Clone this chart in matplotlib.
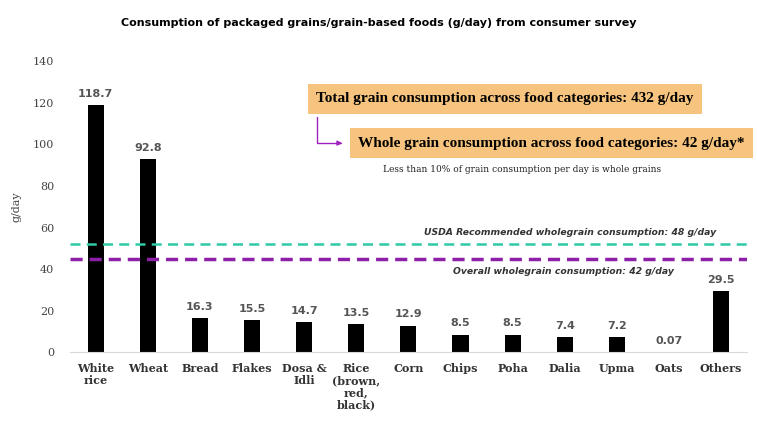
import matplotlib.pyplot as plt
from matplotlib.patches import FancyArrowPatch

categories = ['White\nrice', 'Wheat', 'Bread', 'Flakes', 'Dosa &\nIdli',
              'Rice\n(brown,\nred,\nblack)', 'Corn', 'Chips', 'Poha', 'Dalia',
              'Upma', 'Oats', 'Others']
values = [118.7, 92.8, 16.3, 15.5, 14.7, 13.5, 12.9, 8.5, 8.5, 7.4, 7.2, 0.07, 29.5]
value_labels = ['118.7', '92.8', '16.3', '15.5', '14.7', '13.5', '12.9', '8.5',
                '8.5', '7.4', '7.2', '0.07', '29.5']
usda_line = 52
overall_line = 45

serif = 'DejaVu Serif'
box_font = 'Liberation Serif'

fig = plt.figure(figsize=(7.57, 4.21), dpi=100)
ax = fig.add_axes([0.092, 0.163, 0.895, 0.692])

x = list(range(len(categories)))
ax.bar(x, values, width=0.31, color='black')
for xi, v, lab in zip(x, values, value_labels):
    ax.text(xi, v + 3, lab, ha='center', va='bottom', fontsize=8,
            weight='bold', color='#555555')

ax.axhline(usda_line, color='#2fc9a6', lw=1.8, ls=(0, (4, 2.5)))
ax.axhline(overall_line, color='#8e1fa8', lw=2.5, ls=(0, (3.5, 2)))
ax.text(11.9, usda_line + 3.5, 'USDA Recommended wholegrain consumption: 48 g/day',
        ha='right', va='bottom', fontsize=6.7, style='italic', weight='bold',
        color='#333333')
ax.text(11.1, overall_line - 4, 'Overall wholegrain consumption: 42 g/day',
        ha='right', va='top', fontsize=6.7, style='italic', weight='bold',
        color='#333333')

ax.set_xlim(-0.5, 12.5)
ax.set_ylim(0, 140)
ax.set_yticks(range(0, 141, 20))
ax.set_xticks(x)
ax.set_xticklabels(categories, family=serif, fontsize=8, weight='bold',
                   color='#333333', linespacing=1.1)
ax.tick_params(axis='both', length=0, labelsize=8)
ax.tick_params(axis='x', pad=8)
for lab in ax.get_yticklabels():
    lab.set_family(serif)
    lab.set_color('#444444')
ax.yaxis.set_tick_params(pad=11)
for s in ['top', 'right', 'left']:
    ax.spines[s].set_visible(False)
ax.spines['bottom'].set_color('#d8d8d8')
ax.set_ylabel('g/day', family=serif, fontsize=8, color='#444444', labelpad=8)

fig.text(0.5, 0.945, 'Consumption of packaged grains/grain-based foods (g/day) from consumer survey',
         ha='center', va='center', fontsize=8, weight='bold')

box = dict(boxstyle='square,pad=0.55', fc='#f7c47f', ec='none')
fig.text(0.418, 0.765, 'Total grain consumption across food categories: 432 g/day',
         ha='left', va='center', fontsize=11, weight='bold', family=box_font,
         bbox=box)
fig.text(0.473, 0.66, 'Whole grain consumption across food categories: 42 g/day*',
         ha='left', va='center', fontsize=11, weight='bold', family=box_font,
         bbox=box)
fig.text(0.69, 0.597, 'Less than 10% of grain consumption per day is whole grains',
         ha='center', va='center', fontsize=6.5, family=serif, color='#222222')

arrow = FancyArrowPatch((0.419, 0.728), (0.456, 0.66),
                        connectionstyle='angle,angleA=-90,angleB=180,rad=0',
                        arrowstyle='-|>', mutation_scale=7, color='#a020c0',
                        lw=1, transform=fig.transFigure)
fig.patches.append(arrow)

fig.savefig('out.png', dpi=100)
